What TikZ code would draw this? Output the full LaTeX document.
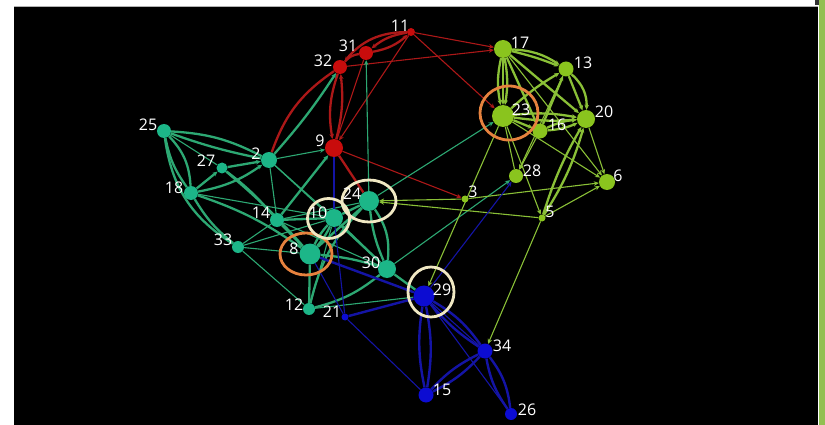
\documentclass[tikz,border=0pt]{standalone}
\usepackage{fontspec}
\setmainfont{Open Sans}
\usetikzlibrary{arrows.meta}
\pgfdeclarelayer{bg}
\pgfdeclarelayer{edges}
\pgfsetlayers{bg,edges,main}
\definecolor{tealN}{RGB}{28,182,136}
\definecolor{tealE}{RGB}{45,168,115}
\definecolor{grnN}{RGB}{138,196,30}
\definecolor{grnE}{RGB}{138,192,55}
\definecolor{redN}{RGB}{200,12,12}
\definecolor{redE}{RGB}{172,24,24}
\definecolor{bluN}{RGB}{12,12,210}
\definecolor{bluE}{RGB}{20,20,165}
\definecolor{ringO}{RGB}{230,130,62}
\definecolor{ringC}{RGB}{240,232,195}
\definecolor{stripG}{RGB}{146,192,82}
\tikzset{
  vtx/.style={circle,inner sep=0pt,draw=none},
  tl/.style={vtx,fill=tealN},
  gn/.style={vtx,fill=grnN},
  rd/.style={vtx,fill=redN},
  bl/.style={vtx,fill=bluN},
  lbl/.style={text=white,inner sep=0pt,font=\fontsize{16}{16}\selectfont},
  ar/.style={-{Stealth[length=5pt,width=4.5pt]}},
  te/.style={draw=tealE,line width=1.1pt},
  teT/.style={draw=tealE,line width=2.3pt},
  ge/.style={draw=grnE,line width=1.1pt},
  geT/.style={draw=grnE,line width=2.3pt},
  re/.style={draw=redE,line width=1.1pt},
  reT/.style={draw=redE,line width=2.3pt},
  be/.style={draw=bluE,line width=1.1pt},
  beT/.style={draw=bluE,line width=2.4pt},
  ringo/.style={draw=ringO,line width=2.8pt},
  ringc/.style={draw=ringC,line width=2.8pt}
}
\begin{document}
\begin{tikzpicture}[x=1pt,y=-1pt]
\useasboundingbox (0,0) rectangle (825,425);
\begin{pgfonlayer}{bg}
\fill[white] (0,0) rectangle (825,425);
\fill[black] (14,6) rectangle (818,425);
\draw[gray!60,line width=0.8pt] (14,6) -- (818,6);
\fill[stripG] (819,0) rectangle (825,425);
\fill[black!80] (815,0) rectangle (819,5);
\end{pgfonlayer}

% ---- nodes: red
\node[rd,minimum size=8pt] (n11) at (411,32) {};
\node[rd,minimum size=14pt] (n31) at (366,53) {};
\node[rd,minimum size=14pt] (n32) at (340,67) {};
\node[rd,minimum size=18pt] (n9) at (334,148) {};
% ---- nodes: green
\node[gn,minimum size=18pt] (n17) at (503,49) {};
\node[gn,minimum size=15pt] (n13) at (566,69) {};
\node[gn,minimum size=22pt] (n23) at (503,116) {};
\node[gn,minimum size=15pt] (n16) at (540,131) {};
\node[gn,minimum size=18pt] (n20) at (586,119) {};
\node[gn,minimum size=14pt] (n28) at (516,176) {};
\node[gn,minimum size=16pt] (n6) at (607,182) {};
\node[gn,minimum size=7pt] (n3) at (465,199) {};
\node[gn,minimum size=7pt] (n5) at (542,218) {};
% ---- nodes: teal
\node[tl,minimum size=14pt] (n25) at (164,131) {};
\node[tl,minimum size=16pt] (n2) at (269,160) {};
\node[tl,minimum size=11pt] (n27) at (222,168) {};
\node[tl,minimum size=14pt] (n18) at (191,193) {};
\node[tl,minimum size=14pt] (n14) at (277,220) {};
\node[tl,minimum size=18pt] (n10) at (334,218) {};
\node[tl,minimum size=20pt] (n24) at (369,201) {};
\node[tl,minimum size=12pt] (n33) at (238,247) {};
\node[tl,minimum size=21pt] (n8) at (310,254) {};
\node[tl,minimum size=18pt] (n30) at (387,269) {};
\node[tl,minimum size=12pt] (n12) at (309,309) {};
% ---- nodes: blue
\node[bl,minimum size=7pt] (n21) at (345,317) {};
\node[bl,minimum size=21pt] (n29) at (424,296) {};
\node[bl,minimum size=15pt] (n34) at (485,351) {};
\node[bl,minimum size=15pt] (n15) at (426,395) {};
\node[bl,minimum size=12pt] (n26) at (511,414) {};

% ---- rings
\draw[ringo] (306,254) ellipse [x radius=26pt,y radius=21pt];
\draw[ringo] (509,113) ellipse [x radius=29pt,y radius=27pt];
\draw[ringc] (328.5,218.5) ellipse [x radius=21pt,y radius=20pt];
\draw[ringc] (369,201) ellipse [x radius=27pt,y radius=21pt];
\draw[ringc] (431,292) ellipse [x radius=23pt,y radius=25pt];

% ---- labels
\node[lbl] (l11) at (400,26) {11};
\node[lbl] (l31) at (348,46) {31};
\node[lbl] (l32) at (323,61) {32};
\node[lbl] (l9) at (320,141) {9};
\node[lbl] (l17) at (520,43) {17};
\node[lbl] (l13) at (583,63) {13};
\node[lbl] (l23) at (521,110) {23};
\node[lbl] (l16) at (557,125) {16};
\node[lbl] (l20) at (604,112) {20};
\node[lbl] (l28) at (532,171) {28};
\node[lbl] (l6) at (618,176) {6};
\node[lbl] (l3) at (473,192) {3};
\node[lbl] (l5) at (550,212) {5};
\node[lbl] (l25) at (148,125) {25};
\node[lbl] (l2) at (256,154) {2};
\node[lbl] (l27) at (206,161) {27};
\node[lbl] (l18) at (174,188) {18};
\node[lbl] (l14) at (261,213) {14};
\node[lbl] (l10) at (318,213) {10};
\node[lbl] (l24) at (352,194) {24};
\node[lbl] (l33) at (223,240) {33};
\node[lbl] (l8) at (294,249) {8};
\node[lbl] (l30) at (371,263) {30};
\node[lbl] (l12) at (294,305) {12};
\node[lbl] (l21) at (332,312) {21};
\node[lbl] (l29) at (442,290) {29};
\node[lbl] (l34) at (502,346) {34};
\node[lbl] (l15) at (442,390) {15};
\node[lbl] (l26) at (527,410) {26};

\begin{pgfonlayer}{edges}
% red
\draw[reT,ar] (n11) to[bend right=15] (n31);
\draw[reT,ar] (n31) to[bend right=15] (n11);
\draw[reT,ar] (n11) to[bend right=25] (n32);
\draw[reT] (n32) to[bend left=20] (n31);
\draw[reT,ar] (n32) to[bend right=14] (n9);
\draw[reT,ar] (n9) to[bend right=10] (n32);
\draw[re,ar] (n11) -- (n9);
\draw[re] (n31) -- (n9);
\draw[re,ar] (n11) -- (n17);
\draw[re,ar] (n11) -- (n23);
\draw[re,ar] (n32) -- (n17);
\draw[reT] (n2) to[bend left=18] (n32);
\draw[re,ar] (n9) -- (n3);
\draw[reT] (n9) -- (n24);
% teal
\draw[teT,ar] (n2) to[bend right=4] (n32);
\draw[te,ar] (n24) -- (n31);
\draw[teT] (n25) to[bend left=12] (n2);
\draw[teT] (n25) to[bend right=4] (n2);
\draw[teT] (n25) to[bend left=20] (n18);
\draw[teT] (n25) to[bend right=12] (n18);
\draw[te] (n25) -- (n27);
\draw[teT] (n25) to[bend right=25] (n33);
\draw[teT,ar] (n18) to[bend right=12] (n2);
\draw[teT,ar] (n18) -- (n27);
\draw[teT,ar] (n27) -- (n2);
\draw[te] (n18) -- (n10);
\draw[teT] (n18) to[bend right=10] (n33);
\draw[teT] (n18) to[bend left=8] (n8);
\draw[teT] (n27) to[bend left=6] (n14);
\draw[teT] (n27) to[bend left=4] (n8);
\draw[te] (n2) -- (n14);
\draw[te] (n2) -- (n10);
\draw[te] (n2) -- (n30);
\draw[te,ar] (n2) -- (n9);
\draw[teT,ar] (n14) -- (n9);
\draw[teT] (n14) -- (n10);
\draw[te] (n14) -- (n24);
\draw[teT] (n14) -- (n8);
\draw[te] (n14) -- (n30);
\draw[te] (n33) -- (n8);
\draw[te] (n33) -- (n10);
\draw[te] (n33) -- (n14);
\draw[te] (n33) -- (n12);
\draw[teT] (n10) -- (n24);
\draw[teT] (n8) to[bend left=8] (n10);
\draw[teT] (n8) to[bend right=8] (n10);
\draw[teT] (n8) -- (n24);
\draw[teT] (n8) to[bend left=6] (n30);
\draw[teT] (n8) -- (n12);
\draw[teT] (n10) -- (n30);
\draw[teT] (n24) to[bend left=20] (n30);
\draw[teT] (n24) to[bend right=8] (n30);
\draw[teT] (n12) to[bend left=15] (n24);
\draw[teT] (n12) to[bend right=12] (n30);
\draw[te] (n12) -- (n29);
\draw[teT] (n30) -- (n29);
\draw[te,ar] (n30) -- (n28);
\draw[te,ar] (n24) -- (n23);
\draw[te] (n12) -- (n10);
% green
\draw[ge,ar] (n3) -- (n24);
\draw[ge,ar] (n5) -- (n24);
\draw[ge,ar] (n3) -- (n6);
\draw[ge,ar] (n5) -- (n6);
\draw[ge,ar] (n23) -- (n29);
\draw[ge,ar] (n5) -- (n34);
\draw[ge,ar] (n23) -- (n5);
\draw[geT,ar] (n17) to[bend left=15] (n13);
\draw[geT,ar] (n17) to[bend left=4] (n13);
\draw[geT,ar] (n17) to[bend right=12] (n23);
\draw[geT,ar] (n17) -- (n23);
\draw[geT,ar] (n17) to[bend left=10] (n23);
\draw[geT,ar] (n17) -- (n20);
\draw[geT,ar] (n17) -- (n16);
\draw[ge,ar] (n17) -- (n6);
\draw[geT,ar] (n23) to[bend left=6] (n13);
\draw[geT,ar] (n16) -- (n13);
\draw[geT,ar] (n13) to[bend left=25] (n20);
\draw[geT,ar] (n13) -- (n20);
\draw[ge,ar] (n13) -- (n28);
\draw[geT,ar] (n23) to[bend left=8] (n20);
\draw[geT,ar] (n23) to[bend right=6] (n20);
\draw[geT,ar] (n23) -- (n16);
\draw[geT,ar] (n16) to[bend left=10] (n20);
\draw[geT,ar] (n16) to[bend right=10] (n20);
\draw[ge,ar] (n23) -- (n6);
\draw[ge,ar] (n20) -- (n6);
\draw[geT,ar] (n5) to[bend left=6] (n20);
\draw[geT,ar] (n5) to[bend right=8] (n20);
\draw[ge,ar] (n16) -- (n28);
\draw[ge] (n28) -- (n23);
% blue
\draw[beT] (n29) to[bend left=12] (n34);
\draw[beT] (n29) to[bend right=8] (n34);
\draw[be] (n29) -- (n34);
\draw[beT] (n29) to[bend left=10] (n15);
\draw[beT] (n29) to[bend right=10] (n15);
\draw[be] (n29) -- (n26);
\draw[beT] (n34) to[bend left=10] (n15);
\draw[beT] (n34) to[bend right=10] (n15);
\draw[beT] (n34) to[bend left=15] (n26);
\draw[beT] (n34) to[bend right=12] (n26);
\draw[be] (n21) -- (n15);
\draw[beT] (n21) -- (n29);
\draw[be] (n21) -- (n10);
\draw[be] (n21) -- (n8);
\draw[beT] (n9) -- (n10);
\draw[beT] (n8) -- (n29);
\draw[be,ar] (n29) -- (n28);
\end{pgfonlayer}
\end{tikzpicture}
\end{document}
